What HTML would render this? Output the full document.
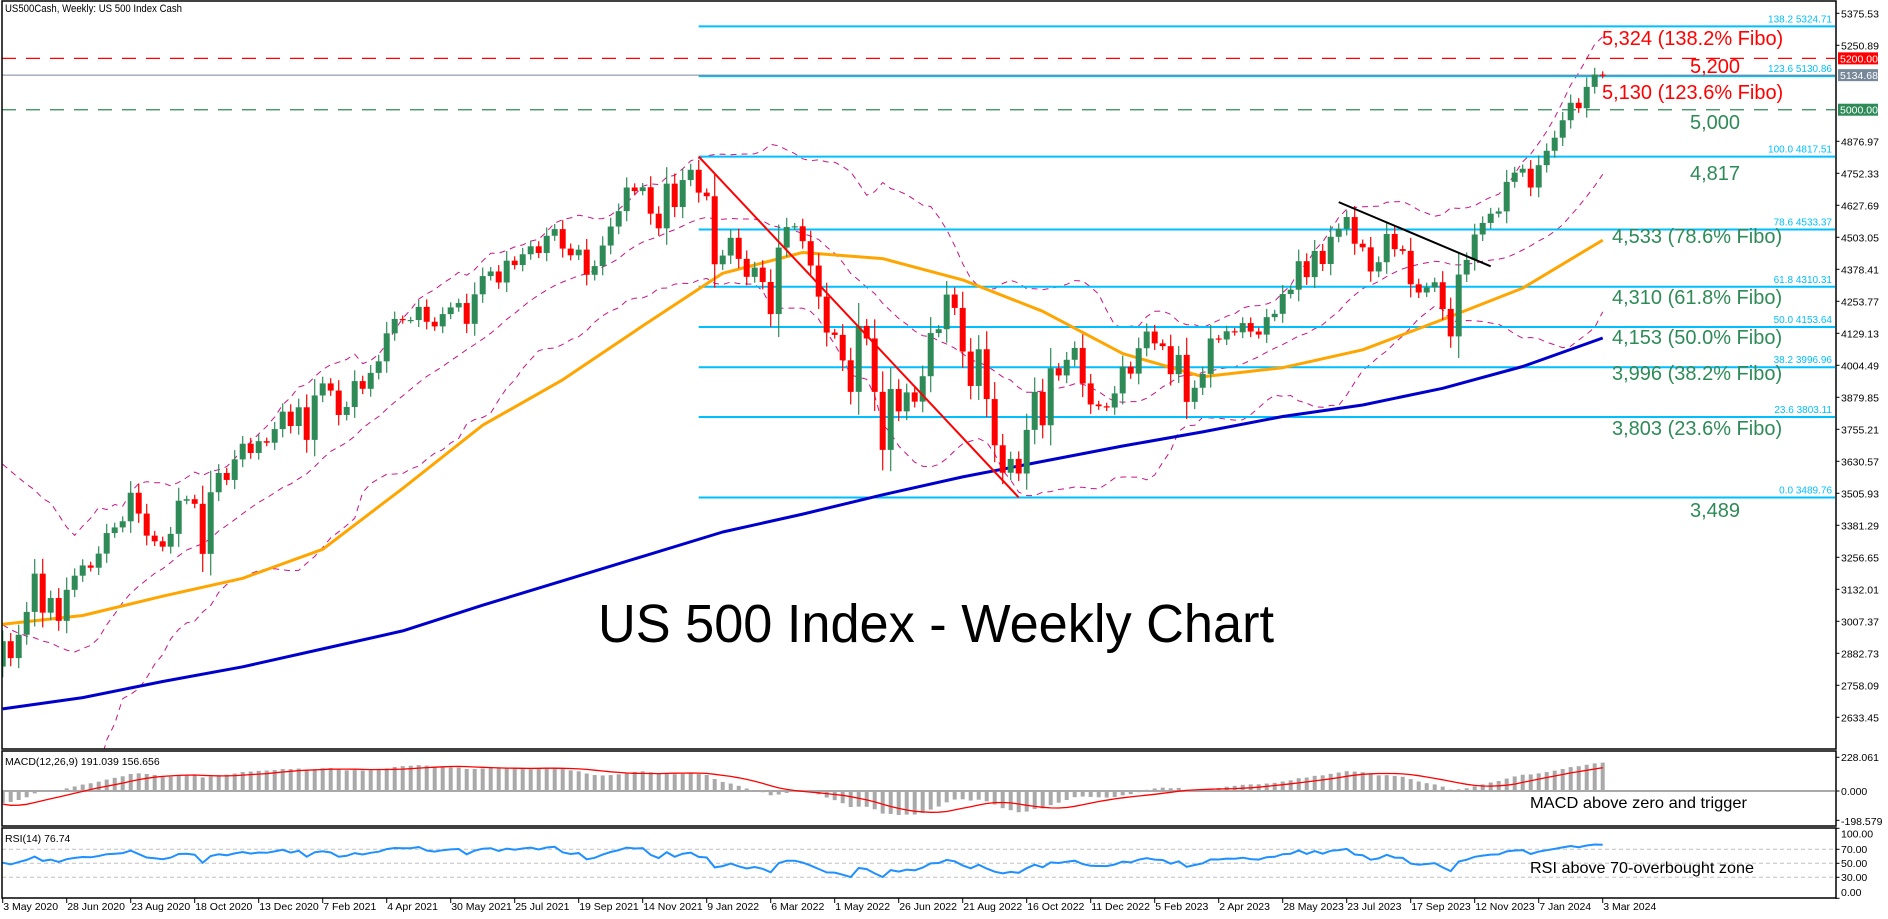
<!DOCTYPE html>
<html><head><meta charset="utf-8"><title>US 500 Index - Weekly Chart</title>
<style>
html,body{margin:0;padding:0;background:#fff;}
svg{display:block;font-family:"Liberation Sans",Arial,sans-serif;}
</style></head>
<body>
<svg id="chart" width="1888" height="919" viewBox="0 0 1888 919" xmlns="http://www.w3.org/2000/svg">
<defs>
<clipPath id="mainClip"><rect x="2" y="2" width="1833" height="747"/></clipPath>
<clipPath id="macdClip"><rect x="2" y="752" width="1833" height="73"/></clipPath>
<clipPath id="rsiClip"><rect x="2" y="829" width="1833" height="69"/></clipPath>
</defs>
<rect x="0" y="0" width="1888" height="919" fill="#fff"/>
<g id="main"></g>
<g id="macd"></g>
<g id="rsi"></g>
<g id="axes"></g>
<rect x="2" y="1" width="1834" height="748" fill="none" stroke="#000" stroke-width="1.5"/>
<rect x="2" y="751" width="1834" height="75" fill="none" stroke="#000" stroke-width="1.5"/>
<rect x="2" y="828" width="1834" height="70" fill="none" stroke="#000" stroke-width="1.5"/>
<text x="5" y="12" font-size="11" textLength="177" lengthAdjust="spacingAndGlyphs">US500Cash, Weekly:  US 500 Index Cash</text>
<text x="598" y="642" font-size="54" textLength="676" lengthAdjust="spacingAndGlyphs">US 500 Index - Weekly Chart</text>
<text x="5" y="765" font-size="10.5">MACD(12,26,9) 191.039 156.656</text>
<text x="5" y="842" font-size="10.5">RSI(14) 76.74</text>
<text x="1530" y="808" font-size="16" textLength="217" lengthAdjust="spacingAndGlyphs">MACD above zero and trigger</text>
<text x="1530" y="873" font-size="16" textLength="224" lengthAdjust="spacingAndGlyphs">RSI above 70-overbought zone</text>
</svg>
<script>
// ---- data ----
const preCloses = [2952,2970,2986,3023,3067,3093,3120,3110,3141,3146,3169,3221,3240,3235,3265,3330,3295,3226,3328,3380,3338,2954,2972,2711,2305,2541,2489,2790,2875,2837,2831];
const closes = [
2930,2864,2955,3044,3193,3041,3098,3009,3130,3185,
3225,3216,3271,3351,3373,3397,3508,3427,3341,3319,
3298,3348,3477,3483,3465,3270,3510,3585,3558,3638,
3699,3663,3709,3703,3756,3824,3768,3841,3714,3887,
3934,3906,3811,3842,3943,3913,3975,4020,4129,4185,
4180,4181,4232,4174,4156,4204,4230,4247,4166,4281,
4352,4370,4327,4412,4395,4437,4468,4442,4509,4535,
4459,4433,4455,4357,4391,4471,4545,4605,4697,4683,
4698,4595,4538,4712,4621,4726,4766,4677,4663,4398,
4432,4501,4419,4349,4385,4329,4204,4463,4543,4546,
4488,4393,4272,4132,4123,4024,3901,4158,4109,3901,
3675,3912,3825,3899,3863,3962,4130,4145,4280,4228,
4058,3924,4067,3873,3693,3586,3640,3583,3753,3901,
3771,3993,3965,4026,4072,3934,3852,3845,3840,3895,
3999,3972,4071,4136,4090,4079,3970,4045,3862,3917,
3971,4109,4105,4137,4133,4169,4136,4124,4192,4205,
4282,4299,4410,4348,4450,4399,4505,4536,4582,4478,
4464,4370,4406,4516,4457,4450,4320,4288,4308,4328,
4224,4117,4358,4415,4514,4559,4595,4604,4719,4755,
4770,4697,4784,4840,4891,4959,5027,5006,5089,5137,
5135];
const maWeeks = [0,10,20,30,40,50,60,70,80,90,100,110,120,130,140,150,160,170,180,190,200];
const ma50 = [2996,3030,3105,3175,3288,3525,3771,3948,4158,4363,4444,4420,4337,4215,4050,3960,3995,4065,4183,4305,4492];
const ma200 = [2666,2710,2773,2830,2900,2970,3070,3165,3260,3355,3425,3500,3570,3630,3690,3745,3805,3850,3915,4000,4111];
const fiboLevels = [138.2,123.6,100.0,78.6,61.8,50.0,38.2,23.6,0.0];
const fiboPrices = [5324.71,5130.86,4817.51,4533.37,4310.31,4153.64,3996.96,3803.11,3489.76];
const fiboStartWeek = 87;
const priceTicks = [5375.53,5250.89,4876.97,4752.33,4627.69,4503.05,4378.41,4253.77,4129.13,4004.49,3879.85,3755.21,3630.57,3505.93,3381.29,3256.65,3132.01,3007.37,2882.73,2758.09,2633.45];
const dateLabels = ["3 May 2020","28 Jun 2020","23 Aug 2020","18 Oct 2020","13 Dec 2020","7 Feb 2021","4 Apr 2021","30 May 2021","25 Jul 2021","19 Sep 2021","14 Nov 2021","9 Jan 2022","6 Mar 2022","1 May 2022","26 Jun 2022","21 Aug 2022","16 Oct 2022","11 Dec 2022","5 Feb 2023","2 Apr 2023","28 May 2023","23 Jul 2023","17 Sep 2023","12 Nov 2023","7 Jan 2024","3 Mar 2024"];
const dateWeekStep = 8;
const levelResistance = 5200;
const levelSupport = 5000;
const lastPrice = 5134.68;
const redTrend = [87,4817.5,127,3489.8];
const blackTrend = [167,4640,186,4390];
const annotations = [
 ["5,324 (138.2% Fibo)",5324.71,"#ff0000",1602,45],
 ["5,200",5200,"#ff0000",1690,73],
 ["5,130 (123.6% Fibo)",5130.86,"#ff0000",1602,99],
 ["5,000",5000,"#2e8b57",1690,129],
 ["4,817",4817.51,"#2e8b57",1690,180],
 ["4,533 (78.6% Fibo)",4533.37,"#2e8b57",1612,243],
 ["4,310 (61.8% Fibo)",4310.31,"#2e8b57",1612,304],
 ["4,153 (50.0% Fibo)",4153.64,"#2e8b57",1612,344],
 ["3,996 (38.2% Fibo)",3996.96,"#2e8b57",1612,380],
 ["3,803 (23.6% Fibo)",3803.11,"#2e8b57",1612,435],
 ["3,489",3489.76,"#2e8b57",1690,517]
];

// ---- scales ----
const NS = "http://www.w3.org/2000/svg";
const X0 = 2.7, DX = 8, RIGHT = 1835.5;
const xw = w => X0 + DX * w;
const yP = v => 13.3 + (5375.53 - v) / 3.895;
const yM = v => 791 - v * 0.1478;
const yR = v => 898.3 - 0.7 * v;
function mk(tag, attrs, parent) {
  const e = document.createElementNS(NS, tag);
  for (const k in attrs) e.setAttribute(k, attrs[k]);
  parent.appendChild(e);
  return e;
}
const gMain = document.getElementById('main');
const gMacd = document.getElementById('macd');
const gRsi = document.getElementById('rsi');
const gAx = document.getElementById('axes');
const mainC = mk('g', {'clip-path':'url(#mainClip)'}, gMain);
const macdC = mk('g', {'clip-path':'url(#macdClip)'}, gMacd);
const rsiC = mk('g', {'clip-path':'url(#rsiClip)'}, gRsi);

const all = preCloses.concat(closes);
const P = preCloses.length;

// ---- Bollinger bands (20,2) ----
const bbU = [], bbM = [], bbL = [];
for (let i = 0; i < closes.length; i++) {
  const s = all.slice(P + i - 19, P + i + 1);
  const m = s.reduce((a, b) => a + b, 0) / s.length;
  const sd = Math.sqrt(s.reduce((a, b) => a + (b - m) * (b - m), 0) / s.length);
  bbM.push(m); bbU.push(m + 2 * sd); bbL.push(m - 2 * sd);
}
function bandPath(arr, name) {
  const p = mk('polyline', {points: arr.map((v, i) => xw(i).toFixed(1) + ',' + yP(v).toFixed(1)).join(' '), fill:'none', stroke:'#c71585', 'stroke-width':1, 'stroke-dasharray':'6,5'}, mainC);
  
  
}
bandPath(bbU, 'bollinger-upper');
bandPath(bbM, 'bollinger-middle');
bandPath(bbL, 'bollinger-lower');

// ---- fibo lines ----
fiboPrices.forEach((v, k) => {
  const l = mk('line', {x1: xw(fiboStartWeek), x2: RIGHT, y1: yP(v), y2: yP(v), stroke:'#00bfff', 'stroke-width':2}, mainC);
  
  
  const t = mk('text', {x: 1832, y: yP(v) - 4, 'font-size':10, fill:'#00bfff', 'text-anchor':'end'}, mainC);
  t.textContent = fiboLevels[k].toFixed(1) + '  ' + v.toFixed(2);
  
  
});

// ---- horizontal levels ----
const lr = mk('line', {x1:2, x2:RIGHT, y1:yP(levelResistance), y2:yP(levelResistance), stroke:'#ff0000', 'stroke-width':1.3, 'stroke-dasharray':'14,10'}, mainC);


const ls = mk('line', {x1:2, x2:RIGHT, y1:yP(levelSupport), y2:yP(levelSupport), stroke:'#2e8b57', 'stroke-width':1.3, 'stroke-dasharray':'14,10'}, mainC);


const lp = mk('line', {x1:2, x2:RIGHT, y1:yP(lastPrice), y2:yP(lastPrice), stroke:'#778899', 'stroke-width':1}, mainC);



// ---- moving averages ----
function maLine(vals, color, name) {
  const p = mk('polyline', {points: vals.map((v, k) => xw(maWeeks[k]).toFixed(1) + ',' + yP(v).toFixed(1)).join(' '), fill:'none', stroke:color, 'stroke-width':3, 'stroke-linejoin':'round'}, mainC);
  
  
}
maLine(ma200, '#0000cd', 'sma-200-line');
maLine(ma50, '#ffa500', 'sma-50-line');

// ---- candles ----
for (let i = 0; i < closes.length; i++) {
  const o = all[P + i - 1], c = closes[i];
  const up = c >= o;
  const col = up ? '#2e8b57' : '#ff0000';
  const ext = Math.abs(c - o) * 0.3 + 12;
  const hi = Math.max(o, c) + ext, lo = Math.min(o, c) - ext;
  const g = mk('g', {}, mainC);
  
  
  mk('line', {x1: xw(i), x2: xw(i), y1: yP(hi), y2: yP(lo), stroke: col, 'stroke-width':1.2}, g);
  const top = yP(Math.max(o, c)), bot = yP(Math.min(o, c));
  mk('rect', {x: xw(i) - 3, y: top, width: 6, height: Math.max(1.2, bot - top), fill: col}, g);
}

// ---- trend lines ----
const tr = mk('line', {x1: xw(redTrend[0]), y1: yP(redTrend[1]), x2: xw(redTrend[2]), y2: yP(redTrend[3]), stroke:'#ff0000', 'stroke-width':2}, mainC);


const tb = mk('line', {x1: xw(blackTrend[0]), y1: yP(blackTrend[1]), x2: xw(blackTrend[2]), y2: yP(blackTrend[3]), stroke:'#000', 'stroke-width':2}, mainC);



// ---- annotations ----
annotations.forEach(a => {
  const t = mk('text', {x: a[3], y: a[4], 'font-size':20, fill: a[2]}, gMain);
  t.textContent = a[0];
  
  
});

// ---- MACD ----
function ema(arr, n) { const k = 2 / (n + 1); const out = [arr[0]]; for (let i = 1; i < arr.length; i++) out.push(arr[i] * k + out[i - 1] * (1 - k)); return out; }
const e12 = ema(all, 12), e26 = ema(all, 26);
const macdAll = all.map((v, i) => e12[i] - e26[i]);
const sigAll = macdAll.map((v, i) => { const s = macdAll.slice(Math.max(0, i - 8), i + 1); return s.reduce((a, b) => a + b, 0) / s.length; });
const zl = mk('line', {x1:2, x2:RIGHT, y1:yM(0), y2:yM(0), stroke:'#a9a9a9', 'stroke-width':2}, macdC);


for (let i = 0; i < closes.length; i++) {
  const v = macdAll[P + i];
  const r = mk('rect', {x: xw(i) - 2, y: Math.min(yM(0), yM(v)), width: 4, height: Math.abs(yM(v) - yM(0)), fill:'#a9a9a9'}, macdC);
  
  
}
const sg = mk('polyline', {points: closes.map((c, i) => xw(i).toFixed(1) + ',' + yM(sigAll[P + i]).toFixed(1)).join(' '), fill:'none', stroke:'#ff0000', 'stroke-width':1.3}, macdC);



// ---- RSI ----
let ag = 0, al = 0; const rsiAll = [50];
for (let i = 1; i < all.length; i++) {
  const d = all[i] - all[i - 1];
  const g = Math.max(d, 0), l = Math.max(-d, 0);
  if (i <= 14) { ag += g / 14; al += l / 14; } else { ag = (ag * 13 + g) / 14; al = (al * 13 + l) / 14; }
  rsiAll.push(al === 0 ? 100 : 100 - 100 / (1 + ag / al));
}
[70, 50, 30].forEach(lv => {
  const l = mk('line', {x1:2, x2:RIGHT, y1:yR(lv), y2:yR(lv), stroke:'#c0c0c0', 'stroke-width':1, 'stroke-dasharray':'4,3'}, rsiC);
  
  
});
const rl = mk('polyline', {points: closes.map((c, i) => xw(i).toFixed(1) + ',' + yR(rsiAll[P + i]).toFixed(1)).join(' '), fill:'none', stroke:'#1e90ff', 'stroke-width':2}, rsiC);



// ---- price axis ----
priceTicks.forEach(v => {
  const y = yP(v);
  mk('line', {x1: RIGHT, x2: RIGHT + 4, y1: y, y2: y, stroke:'#000'}, gAx);
  const t = mk('text', {x: 1841, y: y + 4, 'font-size':10.5}, gAx);
  t.textContent = v.toFixed(2);
  
  
});
[[levelResistance,'#ff0000','resistance-price-box'],[lastPrice,'#778899','last-price-box'],[levelSupport,'#2e8b57','support-price-box']].forEach(b => {
  const y = yP(b[0]);
  const r = mk('rect', {x: 1838, y: y - 6, width: 40, height: 12, fill: b[1]}, gAx);
  
  
  const t = mk('text', {x: 1840, y: y + 4, 'font-size':10.5, fill:'#fff'}, gAx);
  t.textContent = b[0].toFixed(2);
  
  
});
// MACD axis
[[228.061,'228.061',761],[0,'0.000',795],[-198.579,'-198.579',825]].forEach(a => {
  mk('line', {x1: RIGHT, x2: RIGHT + 4, y1: yM(a[0]), y2: yM(a[0]), stroke:'#000'}, gAx);
  const t = mk('text', {x: 1841, y: a[2], 'font-size':10.5}, gAx);
  t.textContent = a[1];
  
  
});
// RSI axis
[[100,'100.00',837.5],[70,'70.00',853],[50,'50.00',867],[30,'30.00',881],[0,'0.00',896]].forEach(a => {
  mk('line', {x1: RIGHT, x2: RIGHT + 4, y1: yR(a[0]), y2: yR(a[0]), stroke:'#000'}, gAx);
  const t = mk('text', {x: 1841, y: a[2], 'font-size':10.5}, gAx);
  t.textContent = a[1];
  
  
});
// date axis
dateLabels.forEach((d, k) => {
  const x = xw(k * dateWeekStep);
  mk('line', {x1: x, x2: x, y1: 898, y2: 903, stroke:'#000'}, gAx);
  const t = mk('text', {x: x + 0.5, y: 910, 'font-size':10.5}, gAx);
  t.textContent = d;
  
  
});
</script>
</body></html>
